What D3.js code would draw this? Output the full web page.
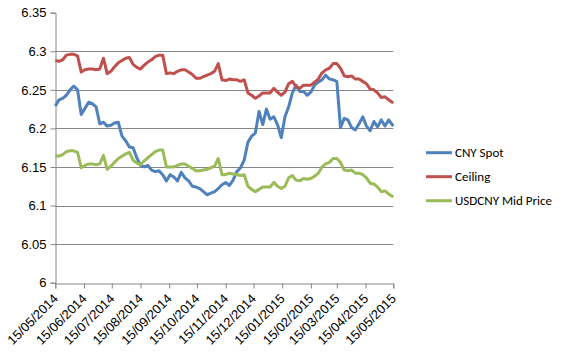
<!DOCTYPE html>
<html>
<head>
<meta charset="utf-8">
<script src="https://cdn.jsdelivr.net/npm/d3@7"></script>
<style>
  body { margin: 0; background: #fff; }
  svg { display: block; font-family: Carlito, Calibri, Roboto, sans-serif; }
</style>
</head>
<body>
<div id="chart"></div>
<script>
const dates = [
  "2014-05-15", "2014-05-19", "2014-05-23", "2014-05-27", "2014-05-31", "2014-06-04", "2014-06-08", "2014-06-12", "2014-06-16", "2014-06-20",
  "2014-06-24", "2014-06-28", "2014-07-02", "2014-07-06", "2014-07-10", "2014-07-14", "2014-07-18", "2014-07-22", "2014-07-26", "2014-07-30",
  "2014-08-03", "2014-08-07", "2014-08-11", "2014-08-15", "2014-08-19", "2014-08-23", "2014-08-27", "2014-08-31", "2014-09-04", "2014-09-08",
  "2014-09-12", "2014-09-16", "2014-09-20", "2014-09-24", "2014-09-28", "2014-10-02", "2014-10-06", "2014-10-10", "2014-10-14", "2014-10-18",
  "2014-10-22", "2014-10-26", "2014-10-30", "2014-11-03", "2014-11-07", "2014-11-11", "2014-11-15", "2014-11-19", "2014-11-23", "2014-11-27",
  "2014-12-01", "2014-12-05", "2014-12-09", "2014-12-13", "2014-12-17", "2014-12-21", "2014-12-25", "2014-12-29", "2015-01-02", "2015-01-06",
  "2015-01-10", "2015-01-14", "2015-01-18", "2015-01-22", "2015-01-26", "2015-01-30", "2015-02-03", "2015-02-07", "2015-02-11", "2015-02-15",
  "2015-02-19", "2015-02-23", "2015-02-27", "2015-03-03", "2015-03-07", "2015-03-11", "2015-03-15", "2015-03-19", "2015-03-23", "2015-03-27",
  "2015-03-31", "2015-04-04", "2015-04-08", "2015-04-12", "2015-04-16", "2015-04-20", "2015-04-24", "2015-04-28", "2015-05-02", "2015-05-06",
  "2015-05-10", "2015-05-15"
]

const cnySpot = [
  6.229, 6.237, 6.239, 6.243, 6.250, 6.255, 6.250, 6.218, 6.226, 6.234,
  6.232, 6.228, 6.206, 6.208, 6.203, 6.204, 6.207, 6.208, 6.190, 6.184,
  6.176, 6.175, 6.162, 6.152, 6.150, 6.152, 6.146, 6.144, 6.145, 6.140,
  6.132, 6.140, 6.137, 6.132, 6.143, 6.136, 6.132, 6.125, 6.124, 6.122,
  6.118, 6.114, 6.116, 6.118, 6.122, 6.127, 6.130, 6.126, 6.133, 6.144,
  6.149, 6.159, 6.182, 6.190, 6.194, 6.222, 6.205, 6.225, 6.212, 6.215,
  6.205, 6.188, 6.215, 6.228, 6.246, 6.256, 6.248, 6.248, 6.243, 6.247,
  6.256, 6.260, 6.263, 6.269, 6.264, 6.263, 6.261, 6.201, 6.213, 6.211,
  6.201, 6.198, 6.206, 6.215, 6.203, 6.197, 6.209, 6.202, 6.211, 6.203,
  6.211, 6.203
]

const ceiling = [
  6.288, 6.287, 6.289, 6.295, 6.296, 6.296, 6.294, 6.273, 6.276, 6.277,
  6.277, 6.276, 6.277, 6.291, 6.271, 6.274, 6.280, 6.285, 6.288, 6.291,
  6.292, 6.283, 6.279, 6.277, 6.282, 6.286, 6.289, 6.293, 6.295, 6.295,
  6.271, 6.272, 6.271, 6.274, 6.276, 6.276, 6.273, 6.270, 6.265, 6.265,
  6.267, 6.269, 6.271, 6.274, 6.284, 6.263, 6.262, 6.264, 6.263, 6.263,
  6.261, 6.263, 6.246, 6.243, 6.239, 6.242, 6.246, 6.246, 6.246, 6.252,
  6.247, 6.243, 6.247, 6.258, 6.261, 6.254, 6.252, 6.256, 6.256, 6.256,
  6.260, 6.264, 6.272, 6.276, 6.278, 6.284, 6.284, 6.278, 6.268, 6.267,
  6.268, 6.264, 6.264, 6.261, 6.258, 6.251, 6.250, 6.246, 6.240, 6.241,
  6.237, 6.233
]

const midPrice = [
  6.165, 6.164, 6.166, 6.170, 6.171, 6.171, 6.169, 6.149, 6.152, 6.154,
  6.154, 6.153, 6.154, 6.165, 6.147, 6.151, 6.156, 6.161, 6.164, 6.167,
  6.169, 6.159, 6.155, 6.153, 6.158, 6.162, 6.166, 6.170, 6.172, 6.172,
  6.150, 6.150, 6.150, 6.152, 6.154, 6.154, 6.151, 6.148, 6.145, 6.145,
  6.146, 6.147, 6.149, 6.151, 6.161, 6.140, 6.140, 6.142, 6.141, 6.140,
  6.139, 6.140, 6.125, 6.121, 6.118, 6.121, 6.124, 6.124, 6.124, 6.130,
  6.125, 6.122, 6.125, 6.136, 6.139, 6.133, 6.132, 6.135, 6.134, 6.135,
  6.138, 6.142, 6.150, 6.154, 6.156, 6.161, 6.161, 6.156, 6.146, 6.145,
  6.146, 6.142, 6.142, 6.140, 6.136, 6.129, 6.128, 6.124, 6.118, 6.119,
  6.115, 6.111
]

const tickDates = [
  "2014-05-15", "2014-06-15", "2014-07-15", "2014-08-15", "2014-09-15", "2014-10-15", "2014-11-15",
  "2014-12-15", "2015-01-15", "2015-02-15", "2015-03-15", "2015-04-15", "2015-05-15"
]
const yTicks = [6, 6.05, 6.1, 6.15, 6.2, 6.25, 6.3, 6.35]

const seriesNames = ["CNY Spot", "Ceiling", "USDCNY Mid Price"]
const seriesColors = ["#4f81bd", "#c0504d", "#9bbb59"]

const width = 567
const height = 352
const margin = { top: 12.7, right: 173.7, bottom: 69.3, left: 55.3 }
const gridColor = "#868686"

const parse = d3.timeParse("%Y-%m-%d")
const xDates = dates.map(parse)
const series = [cnySpot, ceiling, midPrice].map((vals, i) => ({
  name: seriesNames[i],
  color: seriesColors[i],
  points: vals.map((v, j) => ({ date: xDates[j], value: v }))
}))

const svg = d3.select("#chart")
  .append("svg")
  .attr("width", width)
  .attr("height", height)

const x = d3.scaleTime()
  .domain([parse(tickDates[0]), parse(tickDates[tickDates.length - 1])])
  .range([margin.left, width - margin.right])

const y = d3.scaleLinear()
  .domain([6, 6.35])
  .range([height - margin.bottom, margin.top])

// Gridlines (none at the top value)
svg.append("g")
  .selectAll("line")
  .data(yTicks.slice(1, -1))
  .enter()
  .append("line")
  .attr("x1", margin.left)
  .attr("x2", width - margin.right)
  .attr("y1", d => Math.round(y(d)) + 0.5)
  .attr("y2", d => Math.round(y(d)) + 0.5)
  .attr("stroke", gridColor)
  .attr("stroke-width", 1)

// Y axis
const yAxis = svg.append("g")
  .attr("transform", `translate(${Math.round(margin.left) + 0.5},0)`)
  .call(d3.axisLeft(y).tickValues(yTicks).tickSize(5).tickPadding(4).tickFormat(d3.format("~g")))
yAxis.selectAll("text")
  .attr("font-size", "13px")
  .attr("fill", "#000")

// X axis
const xAxis = svg.append("g")
  .attr("transform", `translate(0,${Math.round(height - margin.bottom) + 0.5})`)
  .call(d3.axisBottom(x).tickValues(tickDates.map(parse)).tickSize(5).tickFormat(d3.timeFormat("%d/%m/%Y")))
xAxis.selectAll("text")
  .attr("font-size", "13px")
  .attr("fill", "#000")
  .attr("text-anchor", "end")
  .attr("x", 0)
  .attr("y", 0)
  .attr("dy", 0)
  .attr("transform", "translate(3,16) rotate(-45)")

svg.selectAll(".domain, .tick line").attr("stroke", gridColor)

// Lines
const line = d3.line()
  .x(d => x(d.date))
  .y(d => y(d.value))

svg.append("g")
  .selectAll("path")
  .data(series)
  .enter()
  .append("path")
  .attr("d", d => line(d.points))
  .attr("fill", "none")
  .attr("stroke", d => d.color)
  .attr("stroke-width", 3)
  .attr("stroke-linejoin", "round")

// Legend
const legend = svg.append("g")
  .selectAll("g")
  .data(series)
  .enter()
  .append("g")
  .attr("transform", (d, i) => `translate(426,${152.7 + i * 24})`)

legend.append("line")
  .attr("x1", 0)
  .attr("x2", 26)
  .attr("stroke", d => d.color)
  .attr("stroke-width", 3)

legend.append("text")
  .attr("x", 29)
  .attr("dy", "0.35em")
  .attr("font-size", "13px")
  .attr("fill", "#000")
  .text(d => d.name)
</script>
</body>
</html>
